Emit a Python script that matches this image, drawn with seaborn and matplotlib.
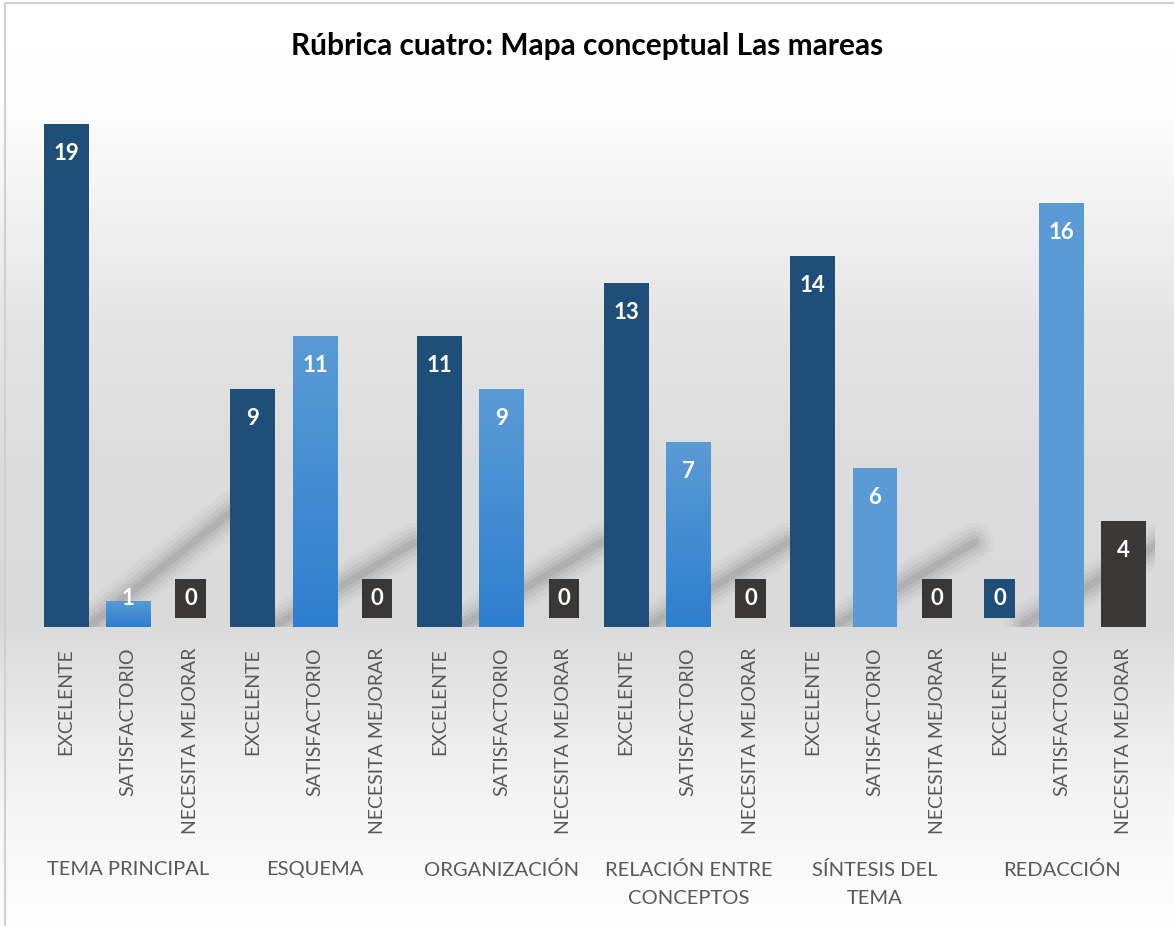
import numpy as np
import pandas as pd
import matplotlib
matplotlib.use("Agg")
import matplotlib.pyplot as plt
import matplotlib.transforms as mtransforms
from matplotlib.patches import Rectangle
import seaborn as sns

# datos de la rubrica
grupos = ["TEMA PRINCIPAL", "ESQUEMA", "ORGANIZACIÓN", "RELACIÓN ENTRE\nCONCEPTOS",
          "SÍNTESIS DEL\nTEMA", "REDACCIÓN"]
niveles = ["EXCELENTE", "SATISFACTORIO", "NECESITA MEJORAR"]
excelente = [19, 9, 11, 13, 14, 0]
satisfactorio = [1, 11, 9, 7, 6, 16]
necesita_mejorar = [0, 0, 0, 0, 0, 4]

colores = {"EXCELENTE": "#1F4E79", "SATISFACTORIO": "#5B9BD5", "NECESITA MEJORAR": "#3A3836"}

rows = []
for g, grupo in enumerate(grupos):
    for nivel, serie in zip(niveles, [excelente, satisfactorio, necesita_mejorar]):
        rows.append({"pos": len(rows), "grupo": g, "nivel": nivel, "valor": serie[g]})
df = pd.DataFrame(rows)

sns.set_style("white")
plt.rcParams['font.family'] = ['Lato', 'DejaVu Sans']

fig = plt.figure(figsize=(11.74, 9.26), dpi=100)

# fondo degradado
ax_bg = fig.add_axes([0, 0, 1, 1], zorder=-2)
ypx = np.arange(926)
gris = np.interp(ypx, [0, 100, 180, 330, 460, 620, 700, 800, 926],
                 [255, 253, 245, 227, 220, 217, 230, 244, 253]) / 255.0
img = np.repeat(gris[:, None], 2, axis=1)
ax_bg.imshow(img, cmap="gray", vmin=0, vmax=1, aspect="auto", extent=[0, 1, 0, 1])
ax_bg.set_axis_off()
fig.add_artist(Rectangle((5 / 1174, -0.01), 1.0, 1 - 3 / 926 + 0.01, transform=fig.transFigure,
                         fill=False, edgecolor="#D0D0D0", linewidth=1.5))

ax = fig.add_axes([35 / 1174, 1 - 627 / 926, 1120 / 1174, 530 / 926])
ax.set_facecolor("none")

sns.barplot(data=df, x="pos", y="valor", hue="nivel", palette=colores, dodge=False,
            width=0.72, legend=False, saturation=1, linewidth=0, ax=ax, zorder=3)
ax.set_xlim(-0.5, len(df) - 0.5)
ax.set_ylim(0, 20)

# sombras diagonales (efecto reflejo)
for g in range(len(grupos)):
    x0 = g * 3 + 0.4
    x1 = x0 + (2.5 if g == 0 else 2.2)
    y1 = 4.8 if g == 0 else 3.2
    for lw, a in [(28, 0.05), (22, 0.07), (16, 0.10), (10, 0.13), (5, 0.16)]:
        ax.plot([x0, x1], [0.1, y1], color="#7A7A7A", lw=lw, alpha=a,
                solid_capstyle="round", zorder=1)

# degradado en barras satisfactorio de los primeros grupos
grad = np.linspace(0, 1, 100)[:, None]
cmap_sat = matplotlib.colors.LinearSegmentedColormap.from_list("sat", ["#5B9BD5", "#2E7FCF"])
bars = sorted([p for p in ax.patches if p.get_width() > 0], key=lambda p: p.get_x())
for p, (_, r) in zip(bars, df.iterrows()):
    if r["nivel"] == "SATISFACTORIO" and r["grupo"] < 4 and r["valor"] > 0:
        x, w, h = p.get_x(), p.get_width(), p.get_height()
        im = ax.imshow(grad, cmap=cmap_sat, aspect="auto", extent=[x, x + w, 0, h], zorder=4)
        im.set_clip_path(p)
ax.set_xlim(-0.5, len(df) - 0.5)
ax.set_ylim(0, 20)

# etiquetas de datos
for _, r in df.iterrows():
    v = r["valor"]
    ypos = max(v - 1.13, 1.07)
    if v == 0:
        ax.text(r["pos"], ypos, "0", color="white", fontsize=16, fontweight="bold",
                ha="center", va="center", zorder=6,
                bbox=dict(boxstyle="square,pad=0.4", fc=colores[r["nivel"]], ec="none"))
    else:
        ax.text(r["pos"], ypos, str(v), color="white", fontsize=16, fontweight="bold",
                ha="center", va="center", zorder=6)

ax.set_xticks(df["pos"])
ax.set_xticklabels(df["nivel"], rotation=90, va="top", ha="center", fontsize=14, color="#595959")
ax.tick_params(axis="x", length=0, pad=15)
ax.set_yticks([])
ax.set_xlabel("")
ax.set_ylabel("")
sns.despine(ax=ax, left=True, bottom=True)

trans = mtransforms.blended_transform_factory(ax.transData, fig.transFigure)
for g, grupo in enumerate(grupos):
    ax.text(g * 3 + 1, 1 - 861 / 926, grupo, transform=trans, ha="center", va="top",
            fontsize=14.5, color="#595959", linespacing=1.75)

fig.text(0.5, 1 - 46 / 926, "Rúbrica cuatro: Mapa conceptual Las mareas", ha="center",
         va="center", fontsize=21.5, fontweight="bold", color="black")

fig.savefig("out.png", dpi=100)
